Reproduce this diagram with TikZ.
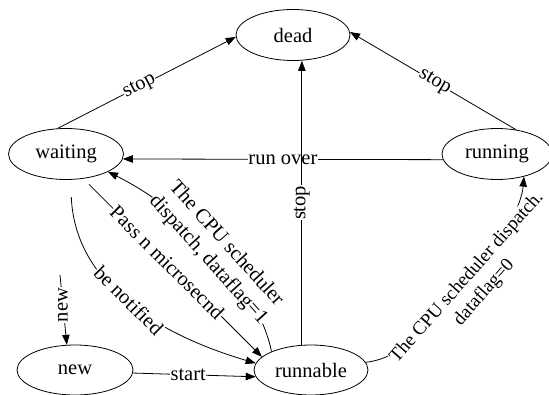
\documentclass[tikz,border=0pt]{standalone}
\usepackage{fontspec}
\setmainfont{Liberation Serif}
\usetikzlibrary{shapes.geometric,arrows.meta}
\begin{document}
\begin{tikzpicture}[x=1pt,y=-1pt,
  txt/.style={font=\fontsize{20.5}{24}\selectfont},
  state/.style={draw,ellipse,line width=0.8pt,minimum height=51pt,inner sep=0pt,txt},
  trans/.style={draw,line width=0.8pt,-{Triangle[length=10pt,width=7.5pt]}},
  lbl/.style={fill=white,inner sep=0.5pt,txt},
]
\useasboundingbox (0,0) rectangle (549,395);
\fill[white] (0,0) rectangle (549,395);

% states
\node[state,minimum width=114pt] (dead)     at (293,35)  {dead};
\node[state,minimum width=115pt] (waiting)  at (66,154)  {waiting};
\node[state,minimum width=110pt] (running)  at (497,154) {running};
\node[state,minimum width=116pt,minimum height=50pt] (new)      at (75,370)  {new};
\node[state,minimum width=114pt,minimum height=50pt] (runnable) at (311,370) {runnable};

\coordinate (newsrc) at (60,275);

% transitions
\draw[trans] (waiting.108) -- node[lbl,sloped,pos=0.46]{stop} (dead.182);
\draw[trans] (running.52) -- node[lbl,sloped,pos=0.49]{stop} (dead.3);
\draw[trans] (running.186) -- node[lbl,pos=0.5]{run over} (waiting.-5);
\draw[trans] (runnable.110) -- node[lbl,sloped,pos=0.5]{stop} (runnable.110 |- dead.south);

\draw[trans,shorten <=8pt] (waiting.-55) -- node[lbl,sloped,pos=0.47]{Pass n microsecnd} (runnable.165);
\draw[trans,shorten <=17pt] (waiting.-80) .. controls (75,285) and (160,335) ..
  node[lbl,rotate=-45,pos=0.5]{be notified} (runnable.173);
\draw[trans] (runnable.155) .. controls (258,285) and (185,210) ..
  node[lbl,align=center,rotate=-48,pos=0.5,xshift=3pt,yshift=2pt]{The CPU scheduler\\dispatch, dataflag=1} (waiting.-23);
\draw[trans] (runnable.8) .. controls (435,355) and (520,225) ..
  node[lbl,align=center,rotate=48.6,pos=0.5,xshift=4pt,yshift=-5pt,font=\fontsize{19}{23}\selectfont]{The CPU scheduler dispatch.\\dataflag=0} (running.-40);

\draw[trans] (new.-3) -- node[lbl,pos=0.45]{start} (runnable.187);
\draw[trans] (newsrc) -- node[lbl,rotate=90,pos=0.43]{new} (new.108);
\end{tikzpicture}
\end{document}
